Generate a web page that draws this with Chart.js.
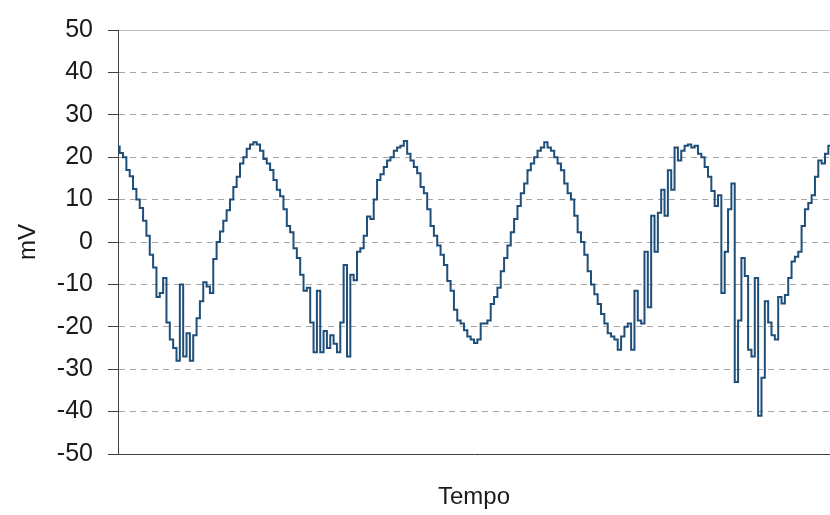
<!DOCTYPE html>
<html>
<head>
<meta charset="utf-8">
<script src="https://cdn.jsdelivr.net/npm/chart.js@4/dist/chart.umd.min.js"></script>
<style>
  html, body { margin: 0; padding: 0; background: #fff; }
  canvas { display: block; }
</style>
</head>
<body>
<canvas id="chart" width="830" height="515"></canvas>
<script>
// sampled trace, mV
const mV = [
  // 1st cycle
  22.5, 21, 20, 17, 15.5, 12.5, 10, 8, 5, 1.5, -3, -6, -13, -12, -8.5, -19, -23, -25,
  -28, -10, -27, -21.5, -28, -22, -18, -14, -9.5, -10.5, -12, -4, 0, 2.5, 5, 7.5, 10, 13,
  // 2nd
  15.4, 18.5, 20, 22, 23, 23.5, 23, 21.5, 19.6, 18.5, 17, 14.6, 12.3, 10.8, 7.7, 3.8, 2.3, -1.5,
  -3.8, -7.7, -11.5, -10.8, -19, -26, -11.5, -26, -21, -25, -22, -24, -26, -19, -5.4, -27, -7.7, -9,
  // 3rd
  -2.3, -1.5, 1.5, 6, 5.4, 10, 14.6, 16, 17.7, 19.2, 20, 21.5, 22.3, 22.7, 23.8, 20.8, 19.2, 17.7,
  16.2, 13, 11.5, 7.7, 3.8, 1.5, -0.8, -3, -5.4, -9.2, -11.5, -16, -18.5, -19.2, -20.8, -22.3, -23, -23.8,
  // 4th
  -23, -19.2, -19.2, -18.5, -14.6, -13, -10.8, -6.9, -3.8, -0.8, 2.3, 5.4, 8.5, 11.5, 13.8, 16.9, 18.5, 20,
  21.5, 22.3, 23.5, 22.3, 21.5, 20, 18.5, 16.9, 13.8, 11.5, 10, 6.2, 2.3, 0, -3, -6.9, -10, -12.3,
  // 5th
  -14.6, -17, -19.2, -21.5, -22.3, -23, -25.4, -22.3, -20, -19.2, -25.4, -11.5, -18.5, -19.2, -2.3, -15.4, 6.2, -2.3,
  6.9, 12.3, 6.2, 16.9, 12.3, 22.3, 19.2, 21.5, 22.7, 23, 22.3, 22.7, 20.8, 20, 17.7, 15.4, 12, 8.5,
  // tail
  11, -12, -2.3, 7.7, 13.8, -33, -18.5, -3.8, -8, -25.4, -27, -8.5, -41, -32, -14, -19, -22,
  -23, -13, -14.5, -12.5, -8.5, -4.6, -3.5, -2.3, 3.8, 7.7, 9.2, 11, 15.4, 19.2, 18.5, 20.8, 22.7
];
const tempo = mV.map((_, i) => i);
const yTicks = [-50, -40, -30, -20, -10, 0, 10, 20, 30, 40, 50];

const font = "'Liberation Sans', Arial, sans-serif";
const axisColor = "#404040";
const textColor = "#1a1a1a";

new Chart(document.getElementById("chart"), {
  type: "line",
  data: {
    labels: tempo,
    datasets: [{
      data: mV,
      borderColor: "#1f4e79",
      borderWidth: 2,
      pointRadius: 0,
      tension: 0,
      stepped: "middle"
    }]
  },
  options: {
    responsive: false,
    animation: false,
    layout: { padding: { top: 29, right: 0, bottom: 0, left: 0 } },
    plugins: { legend: { display: false }, tooltip: { enabled: false } },
    scales: {
      x: {
        offset: false,
        grid: { display: false },
        border: { display: true, color: axisColor, width: 1 },
        ticks: { display: false },
        title: {
          display: true, text: "Tempo", color: textColor,
          font: { family: font, size: 24 }, padding: { top: 0, bottom: 3 }
        },
        afterFit: (s) => { s.height = 61; }
      },
      y: {
        min: yTicks[0],
        max: yTicks[yTicks.length - 1],
        afterBuildTicks: (s) => { s.ticks = yTicks.map((v) => ({ value: v })); },
        ticks: { color: textColor, font: { family: font, size: 25 }, padding: 15 },
        grid: {
          color: (c) => (c.tick && c.tick.value === yTicks[0] ? "rgba(0,0,0,0)" :
            c.tick && c.tick.value === yTicks[yTicks.length - 1] ? "#c0c0c0" : "#a6a6a6"),
          tickLength: 10,
          tickColor: axisColor
        },
        border: {
          display: true, color: axisColor, width: 1,
          dash: (c) => (c.tick && c.tick.value !== yTicks[yTicks.length - 1] ? [6, 5] : [])
        },
        title: {
          display: true, text: "mV", color: textColor,
          font: { family: font, size: 24 }, padding: { top: 14 }
        },
        afterFit: (s) => { s.width = 118; }
      }
    }
  }
});
</script>
</body>
</html>
